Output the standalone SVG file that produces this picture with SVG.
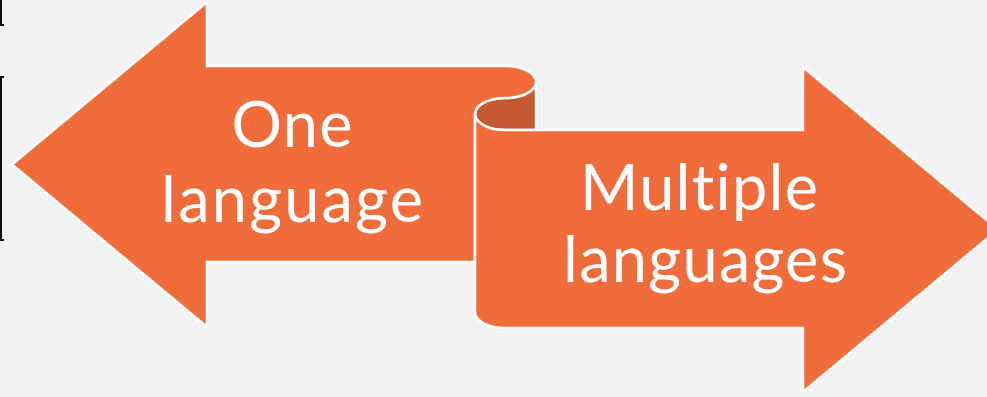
<svg xmlns="http://www.w3.org/2000/svg" width="987" height="397" viewBox="0 0 987 397">
<style>
.shape{fill:#F06C3B;stroke:#FFFFFF;stroke-width:2.5;stroke-linejoin:miter}
.back{fill:#C55A32;stroke:#FFFFFF;stroke-width:2.5}
.lbl{font-family:Lato,"Liberation Sans",sans-serif;font-size:63px;fill:#FFFFFF;text-anchor:middle;font-variant-ligatures:none;font-feature-settings:"liga" 0,"clig" 0}
</style>
<rect width="987" height="397" fill="#F2F2F2"/>
<path d="M1,0 V25 H4 M4,77 H1 V240 H4" fill="none" stroke="#111111" stroke-width="2"/>
<g id="curl-back">
<path class="back" d="M536,82 A31,16 0 0 1 505,98 A30,16 0 0 0 475,114 A30,16 0 0 0 505,130 L536,130 Z"/>
</g>
<g id="one-language">
<path class="shape" d="M12,164.5 L207,2 L207,66 L505,66 A31,16 0 0 1 536,82 A31,16 0 0 1 505,98 A30,16 0 0 0 475,114 L475,262 L207,262 L207,327 Z"/>
<text class="lbl" x="292" y="147" textLength="121" lengthAdjust="spacing">One</text>
<text class="lbl" x="292" y="222" textLength="262" lengthAdjust="spacing">language</text>
</g>
<g id="multiple-languages">
<path class="shape" d="M475,114 A30,16 0 0 0 505,130 L803,130 L803,67 L998,229.5 L803,392 L803,328 L505,328 A30,16 0 0 1 475,312 Z"/>
<text class="lbl" x="699" y="210" textLength="238" lengthAdjust="spacing">Multiple</text>
<text class="lbl" x="705" y="282" textLength="284" lengthAdjust="spacing">languages</text>
</g>
<g id="connectors"></g>
</svg>
